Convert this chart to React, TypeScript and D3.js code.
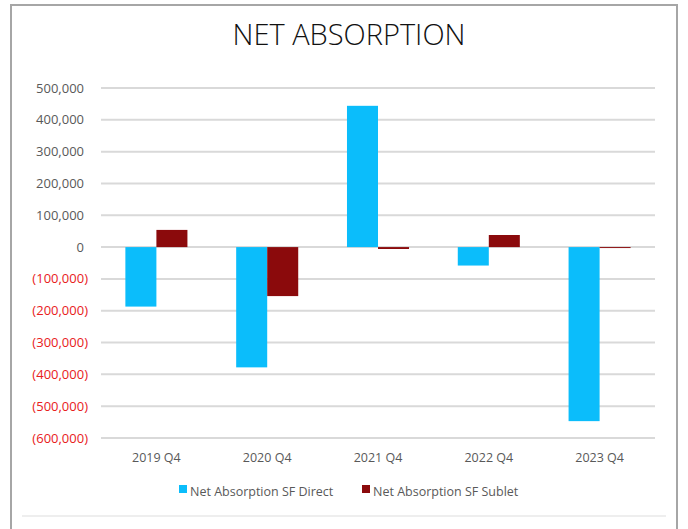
import React, { useEffect, useRef } from 'react'
import * as d3 from 'd3'

const W = 688
const H = 529
const margin = { top: 88, right: 33, bottom: 91, left: 101 }

const categories = ['2019 Q4', '2020 Q4', '2021 Q4', '2022 Q4', '2023 Q4']
const seriesNames = ['Net Absorption SF Direct', 'Net Absorption SF Sublet']
const direct = [-187000, -378000, 444000, -58000, -547000]
const sublet = [54000, -154000, -6000, 38000, -3000]
const yTicks = [500000, 400000, 300000, 200000, 100000, 0, -100000, -200000, -300000, -400000, -500000, -600000]
const colors = ['#0BBDFB', '#8B0A0C']

const App = () => {
  const ref = useRef<SVGSVGElement>(null)

  useEffect(() => {
    const svg = d3.select(ref.current)
    svg.selectAll('*').remove()

    const x0 = d3.scaleBand<string>()
      .domain(categories)
      .range([margin.left, W - margin.right])
      .paddingInner(0.44)
      .paddingOuter(0.22)
    const x1 = d3.scaleBand<string>()
      .domain(seriesNames)
      .range([0, x0.bandwidth()])
    const y = d3.scaleLinear()
      .domain([-600000, 500000])
      .range([H - margin.bottom, margin.top])

    // outer frame
    svg.append('rect')
      .attr('x', 11).attr('y', 5)
      .attr('width', 666).attr('height', 540)
      .attr('fill', '#fff')
      .attr('stroke', '#a6a6a6')
      .attr('stroke-width', 2)
    svg.append('line')
      .attr('x1', 22).attr('x2', 666)
      .attr('y1', 516).attr('y2', 516)
      .attr('stroke', '#e8e8e8').attr('stroke-width', 1.5)

    svg.append('text')
      .attr('x', 349).attr('y', 45)
      .attr('text-anchor', 'middle')
      .attr('font-family', 'Open Sans')
      .attr('font-weight', 300)
      .attr('font-size', 29)
      .attr('fill', '#111')
      .text('NET ABSORPTION')

    // grid
    svg.append('g')
      .selectAll('line')
      .data(yTicks)
      .join('line')
      .attr('x1', margin.left).attr('x2', W - margin.right)
      .attr('y1', d => y(d)).attr('y2', d => y(d))
      .attr('stroke', '#d9d9d9')
      .attr('stroke-width', 2)

    const fmt = d3.format(',')
    svg.append('g')
      .selectAll('text')
      .data(yTicks)
      .join('text')
      .attr('x', d => (d < 0 ? 88 : 84))
      .attr('y', d => y(d))
      .attr('dy', '0.35em')
      .attr('text-anchor', 'end')
      .attr('font-family', 'Open Sans')
      .attr('font-size', 13)
      .attr('fill', d => (d < 0 ? '#e8201c' : '#595959'))
      .text(d => (d < 0 ? `(${fmt(-d)})` : fmt(d)))

    // bars
    const rows = categories.map((c, i) => ({ c, vals: [direct[i], sublet[i]] }))
    const groups = svg.append('g')
      .selectAll('g')
      .data(rows)
      .join('g')
      .attr('transform', d => `translate(${x0(d.c)},0)`)
    groups.selectAll('rect')
      .data(d => d.vals.map((v, k) => ({ v, k })))
      .join('rect')
      .attr('x', d => x1(seriesNames[d.k]) as number)
      .attr('width', x1.bandwidth())
      .attr('y', d => Math.min(y(d.v), y(0)))
      .attr('height', d => Math.abs(y(d.v) - y(0)))
      .attr('fill', d => colors[d.k])

    // x labels
    svg.append('g')
      .selectAll('text')
      .data(categories)
      .join('text')
      .attr('x', d => (x0(d) as number) + x0.bandwidth() / 2)
      .attr('y', 462)
      .attr('text-anchor', 'middle')
      .attr('font-family', 'Open Sans')
      .attr('font-size', 12.5)
      .attr('fill', '#595959')
      .text(d => d)

    // legend
    const legendX = [179, 362]
    const lg = svg.append('g')
      .selectAll('g')
      .data(seriesNames)
      .join('g')
      .attr('transform', (d, i) => `translate(${legendX[i]},492)`)
    lg.append('rect')
      .attr('x', 0).attr('y', -7)
      .attr('width', 8).attr('height', 8)
      .attr('fill', (d, i) => colors[i])
    lg.append('text')
      .attr('x', 11).attr('y', 0)
      .attr('dy', '0.3em')
      .attr('font-family', 'Open Sans')
      .attr('font-size', 12.5)
      .attr('fill', '#595959')
      .text(d => d)
  }, [])

  return (
    <svg ref={ref} width={W} height={H}
      style={{ position: 'absolute', left: 0, top: 0, background: '#fff' }} />
  )
}

export default App
